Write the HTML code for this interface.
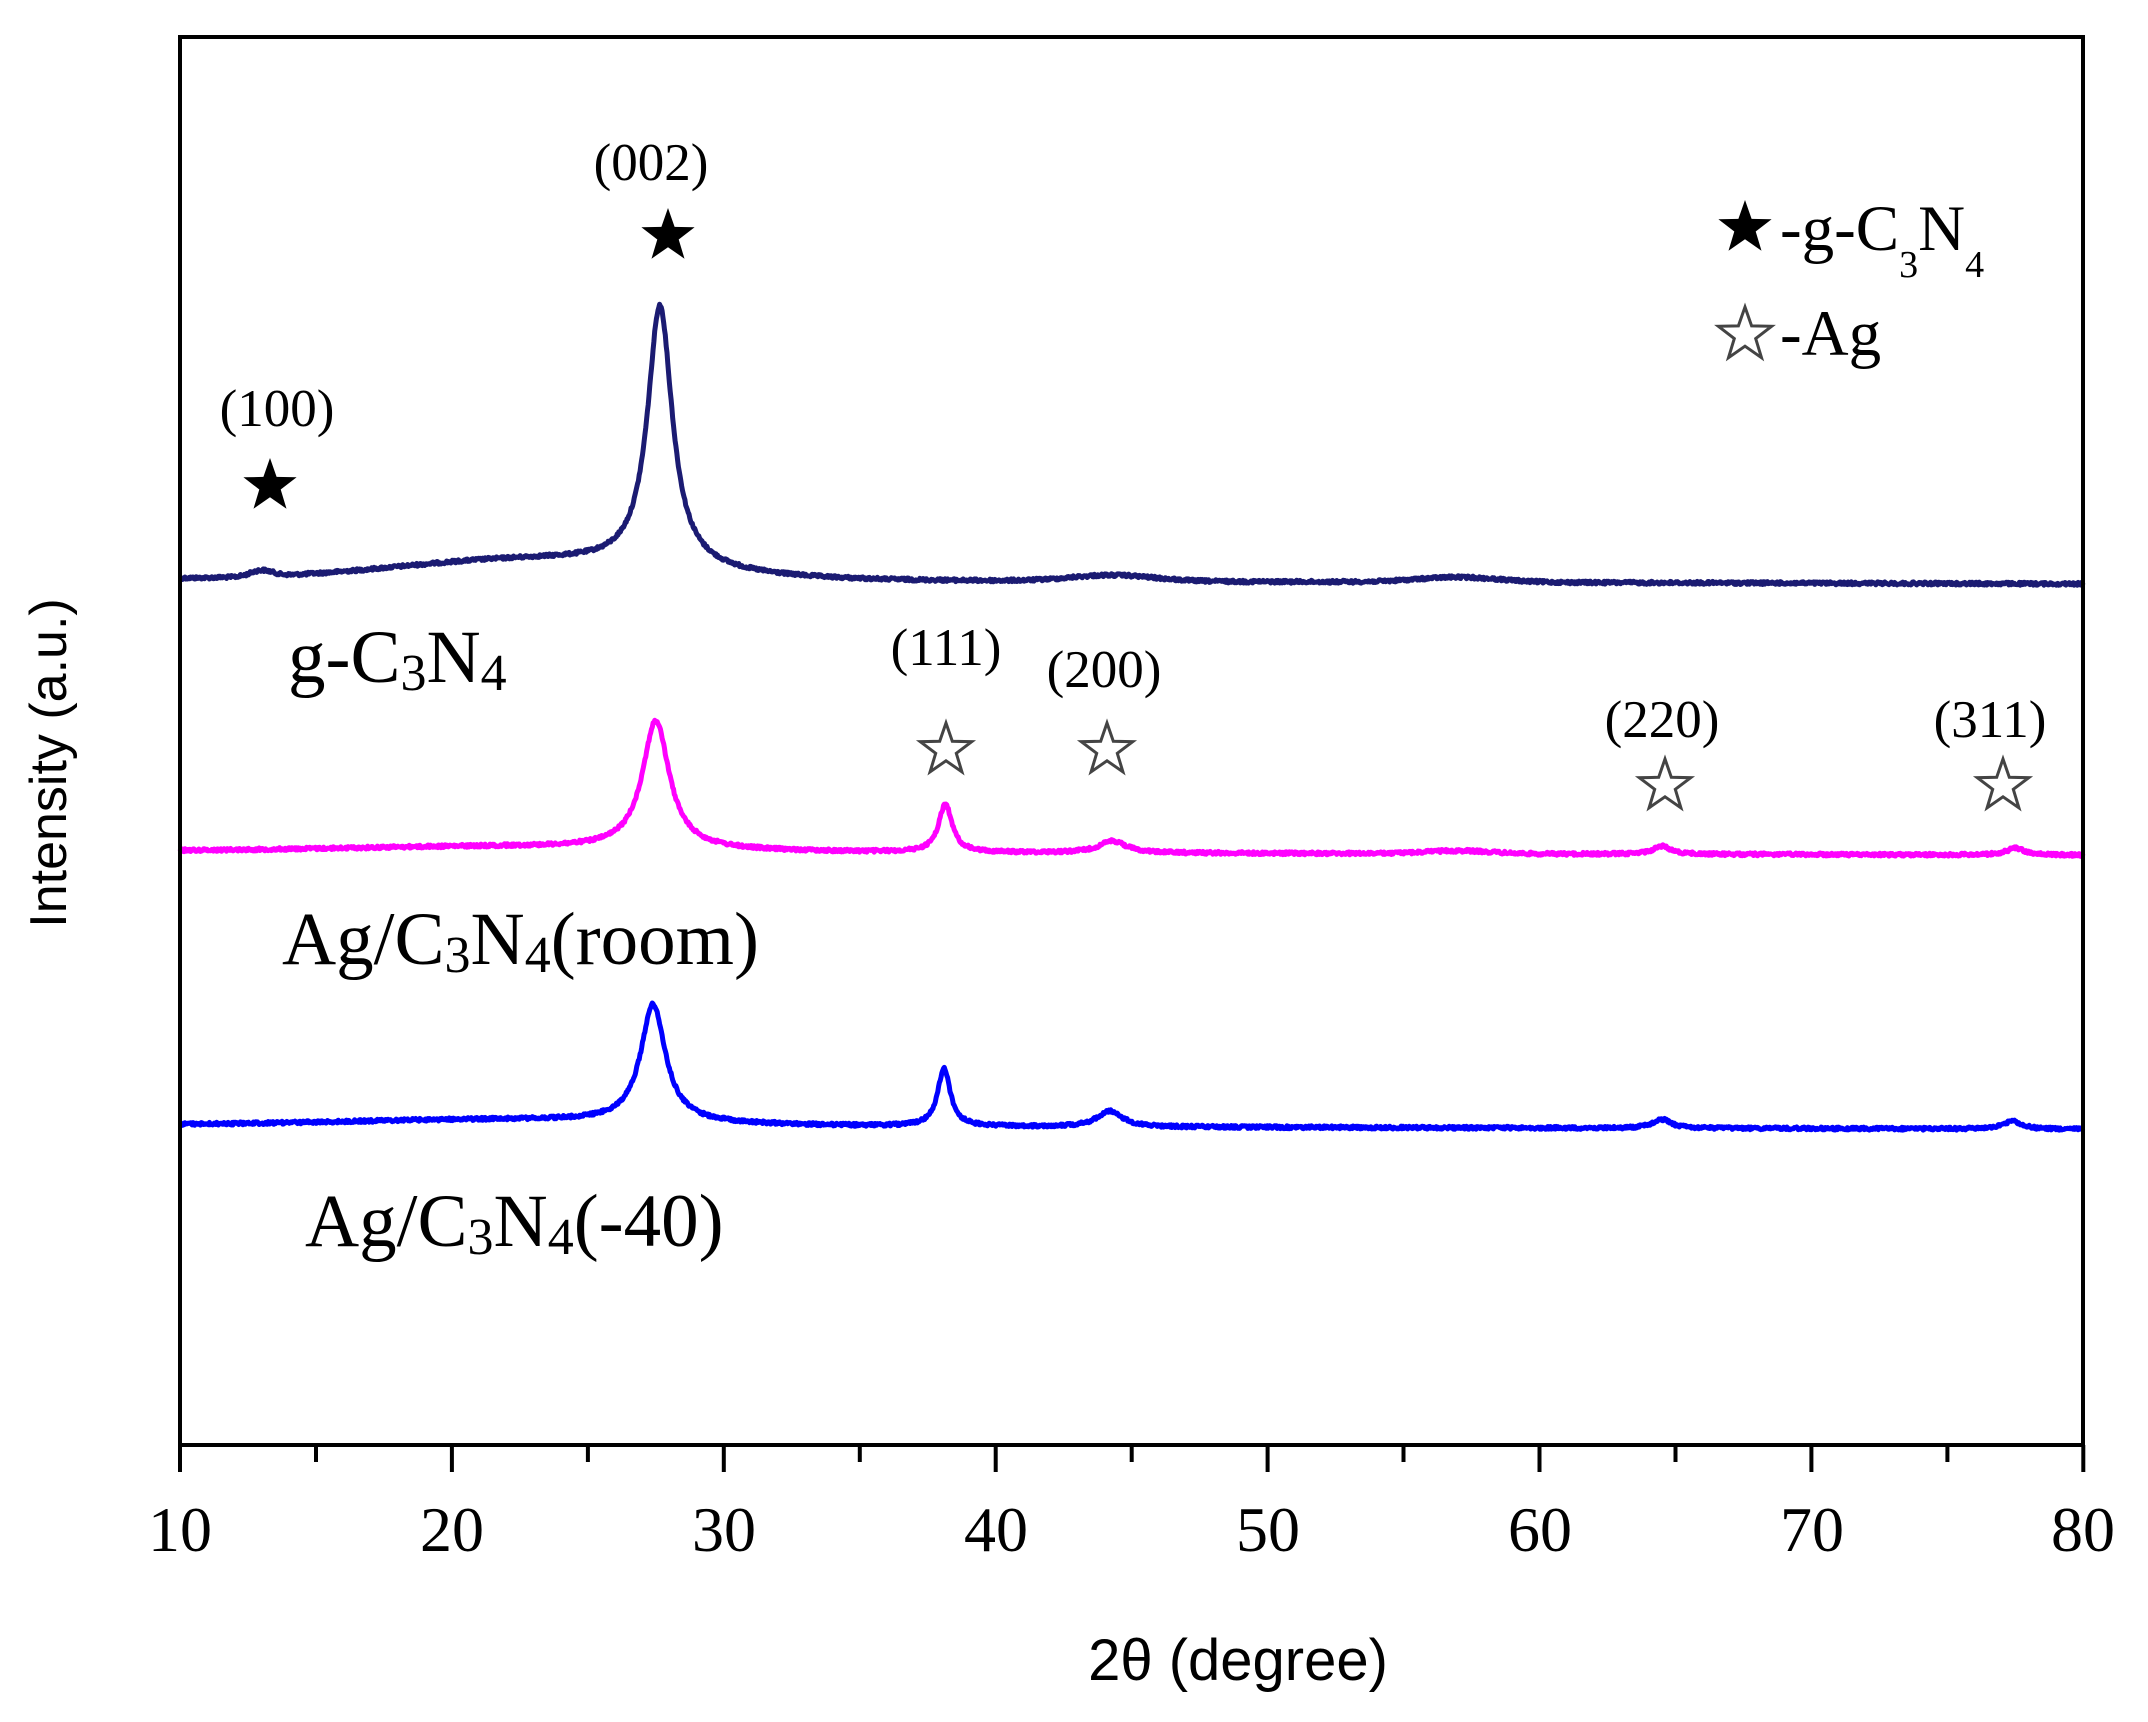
<!DOCTYPE html>
<html><head><meta charset="utf-8"><style>
html,body{margin:0;padding:0;background:#fff;}
svg{display:block;}
.t{font-family:"Liberation Serif","DejaVu Serif",serif;fill:#000;}
.s{font-family:"Liberation Sans","DejaVu Sans",sans-serif;fill:#000;}
</style></head><body>
<svg id="g" width="2148" height="1722" viewBox="0 0 2148 1722" xmlns="http://www.w3.org/2000/svg">
<rect width="2148" height="1722" fill="#fff"/>
<path id="p1" fill="none" stroke="#1b1b72" stroke-width="5" stroke-linejoin="round"/>
<path id="p2" fill="none" stroke="#ff00ff" stroke-width="5" stroke-linejoin="round"/>
<path id="p3" fill="none" stroke="#0000ff" stroke-width="5" stroke-linejoin="round"/>
<rect x="180" y="37" width="1903" height="1408" fill="none" stroke="#000" stroke-width="4"/>
<g id="ticks" stroke="#000" stroke-width="4"></g>
<g class="t" font-size="64" text-anchor="middle">
<text x="180" y="1551">10</text><text x="452" y="1551">20</text><text x="724" y="1551">30</text><text x="996" y="1551">40</text><text x="1268" y="1551">50</text><text x="1540" y="1551">60</text><text x="1812" y="1551">70</text><text x="2083" y="1551">80</text>
</g>
<text class="s" x="1238" y="1680" font-size="58" text-anchor="middle">2θ (degree)</text>
<text class="s" x="0" y="0" font-size="52" text-anchor="middle" fill="#333" transform="translate(66,763) rotate(-90)">Intensity (a.u.)</text>
<g class="t" font-size="53" text-anchor="middle" fill="#222">
<text x="651" y="180">(002)</text>
<text x="277" y="426">(100)</text>
<text x="946" y="665">(111)</text>
<text x="1104" y="687">(200)</text>
<text x="1662" y="737">(220)</text>
<text x="1990" y="737">(311)</text>
</g>
<g class="t" font-size="75">
<text x="288" y="682">g-C<tspan font-size="52" dy="8">3</tspan><tspan dy="-8">N</tspan><tspan font-size="52" dy="8">4</tspan></text>
<text x="282" y="964">Ag/C<tspan font-size="52" dy="8">3</tspan><tspan dy="-8">N</tspan><tspan font-size="52" dy="8">4</tspan><tspan dy="-8">(room)</tspan></text>
<text x="305" y="1246">Ag/C<tspan font-size="52" dy="8">3</tspan><tspan dy="-8">N</tspan><tspan font-size="52" dy="8">4</tspan><tspan dy="-8">(-40)</tspan></text>
</g>
<g class="t" font-size="65">
<text x="1780" y="250">-g-C<tspan font-size="38" dy="27">3</tspan><tspan dy="-27">N</tspan><tspan font-size="38" dy="27">4</tspan></text>
<text x="1780" y="355">-Ag</text>
</g>
<g id="stars"></g>
</svg>
<script>
(function(){
var X=function(t){return 180+(t-10)*27.19;};
var seed=12345;function rnd(){seed=(seed*1103515245+12345)%2147483648;return seed/2147483648;}
function L(x,c,w,a){var d=(x-c)/w;return a/(1+d*d);}
function G(x,c,s,a){var d=(x-c)/s;return a*Math.exp(-0.5*d*d);}
function build(id,f,amp){var d="";for(var t=10;t<=80.001;t+=0.03){var y=f(t)+(rnd()-0.5)*amp;d+=(d?"L":"M")+X(t).toFixed(1)+" "+y.toFixed(1);}document.getElementById(id).setAttribute("d",d);}
build("p1",function(x){var b=579+(x-10)*0.07;return b-G(x,23,5,20)-G(x,13,0.4,6)-G(x,44.3,1.5,6)-G(x,57,1.5,5)-L(x,27.65,0.55,262);},3);
build("p2",function(x){var b=851+(x-10)*0.06;return b-G(x,22,6,5)-L(x,27.5,0.6,128)-L(x,38.15,0.3,48)-L(x,44.3,0.6,12)-G(x,57,1.2,3)-L(x,64.5,0.4,8)-L(x,77.5,0.4,7);},3);
build("p3",function(x){var b=1125+(x-10)*0.06;return b-G(x,22,6,6)-L(x,27.4,0.55,118)-L(x,38.1,0.28,58)-L(x,44.2,0.55,16)-L(x,64.5,0.4,9)-L(x,77.4,0.4,8);},3);
var tk="";for(var v=10;v<=80;v+=5){var x=X(v).toFixed(1);var major=(v%10==0);tk+='<line x1="'+x+'" y1="1445" x2="'+x+'" y2="'+(major?1472:1462)+'"/>';}
document.getElementById("ticks").innerHTML=tk;
function star(cx,cy,R,fill){var p=[];for(var i=0;i<10;i++){var r=(i%2)?R*0.4:R;var a=-Math.PI/2+i*Math.PI/5;p.push((cx+r*Math.cos(a)).toFixed(1)+","+(cy+r*Math.sin(a)).toFixed(1));}
return '<polygon points="'+p.join(" ")+'" '+(fill?'fill="#000"':'fill="none" stroke="#444" stroke-width="3"')+'/>';}
var s="";
s+=star(668,236,28,1)+star(270,486,28,1)+star(1745,228,28,1)+star(1745,335,28,0);
s+=star(946,750,27,0)+star(1107,750,27,0)+star(1665,786,27,0)+star(2003,786,27,0);
document.getElementById("stars").innerHTML=s;
})();
</script>
</body></html>
